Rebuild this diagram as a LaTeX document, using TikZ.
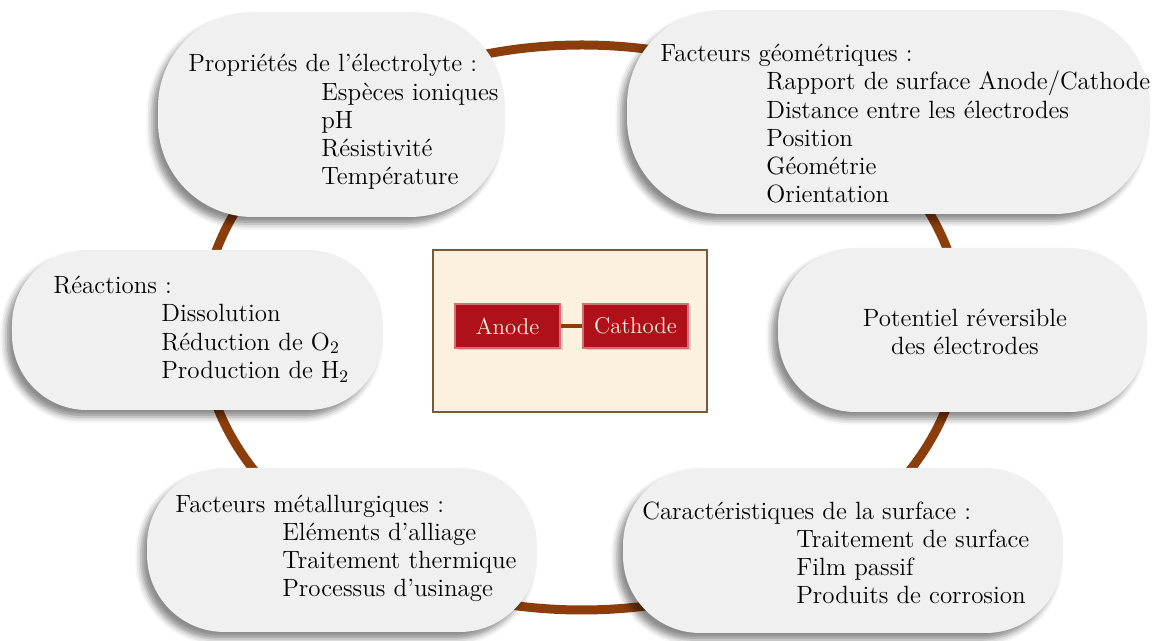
\documentclass[tikz,border=0pt]{standalone}
\usepackage{fontspec}
\usetikzlibrary{shadows,shadows.blur}
\definecolor{brun}{RGB}{139,62,12}
\definecolor{bulle}{RGB}{240,240,240}
\definecolor{parchemin}{RGB}{251,241,222}
\definecolor{cadre}{RGB}{122,90,53}
\definecolor{rouge}{RGB}{176,16,26}
\newcommand{\el}[1]{\\\hspace*{#1}}
\begin{document}
\begin{tikzpicture}[
    bulle/.style={fill=bulle, draw=none, blur shadow={shadow xshift=-0.12cm, shadow yshift=-0.14cm, shadow blur radius=0.12cm, shadow opacity=45}},
    texte/.style={inner sep=0pt, anchor=base west, align=left, font=\fontsize{14.2}{16.1}\selectfont},
    electrode/.style={fill=rouge, draw=rouge!60!white, line width=0.6pt, minimum width=2.1cm, minimum height=0.88cm, text=parchemin, font=\fontsize{13}{15}\selectfont, drop shadow={shadow xshift=0.05cm, shadow yshift=-0.05cm, opacity=0.3}}
]
    \useasboundingbox (0,0) rectangle (23.06,12.82);
    % le cycle
    \draw[brun, line width=0.18cm] (11.64,6.27) ellipse (7.6cm and 5.65cm);
    % les bulles
    \node[bulle, minimum width=6.94cm, minimum height=4.1cm, rounded corners=1.9cm] (electrolyte) at (6.63,10.53) {};
    \node[bulle, minimum width=10.46cm, minimum height=4.08cm, rounded corners=1.9cm] (geometrie) at (17.77,10.58) {};
    \node[bulle, minimum width=7.38cm, minimum height=3.28cm, rounded corners=1.55cm] (potentiel) at (19.25,6.22) {};
    \node[bulle, minimum width=7.42cm, minimum height=3.2cm, rounded corners=1.5cm] (reactions) at (3.95,6.22) {};
    \node[bulle, minimum width=7.8cm, minimum height=3.28cm, rounded corners=1.55cm] (metallurgie) at (6.84,1.82) {};
    \node[bulle, minimum width=8.8cm, minimum height=3.3cm, rounded corners=1.55cm] (surface) at (16.86,1.81) {};
    % les textes (ancrés sur la dernière ligne)
    \node[texte] (t-electrolyte) at (3.76,9.12) {Propriétés de l’électrolyte :\el{2.66cm}Espèces ioniques\el{2.66cm}pH\el{2.66cm}Résistivité\el{2.66cm}Température};
    \node[texte] (t-geometrie) at (13.2,8.76) {Facteurs géométriques :\el{2.12cm}Rapport de surface Anode/Cathode\el{2.12cm}Distance entre les électrodes\el{2.12cm}Position\el{2.12cm}Géométrie\el{2.12cm}Orientation};
    \node[texte, anchor=center, align=center] (t-potentiel) at (19.3,6.18) {Potentiel réversible\\des électrodes};
    \node[texte] (t-reactions) at (1.06,5.25) {Réactions :\el{2.16cm}Dissolution\el{2.16cm}Réduction de O$_2$\el{2.16cm}Production de H$_2$};
    \node[texte] (t-metallurgie) at (3.5,0.88) {Facteurs métallurgiques :\el{2.14cm}Eléments d’alliage\el{2.14cm}Traitement thermique\el{2.14cm}Processus d’usinage};
    \node[texte] (t-surface) at (12.84,0.74) {Caractéristiques de la surface :\el{3.08cm}Traitement de surface\el{3.08cm}Film passif\el{3.08cm}Produits de corrosion};
    % le couple au centre
    \node[fill=parchemin, draw=cadre, line width=1pt, minimum width=5.48cm, minimum height=3.24cm] (couple) at (11.4,6.2) {};
    \node[electrode] (anode) at (10.15,6.3) {Anode};
    \node[electrode] (cathode) at (12.71,6.3) {Cathode};
    \draw[brun, line width=0.08cm] (anode) -- (cathode);
\end{tikzpicture}
\end{document}
